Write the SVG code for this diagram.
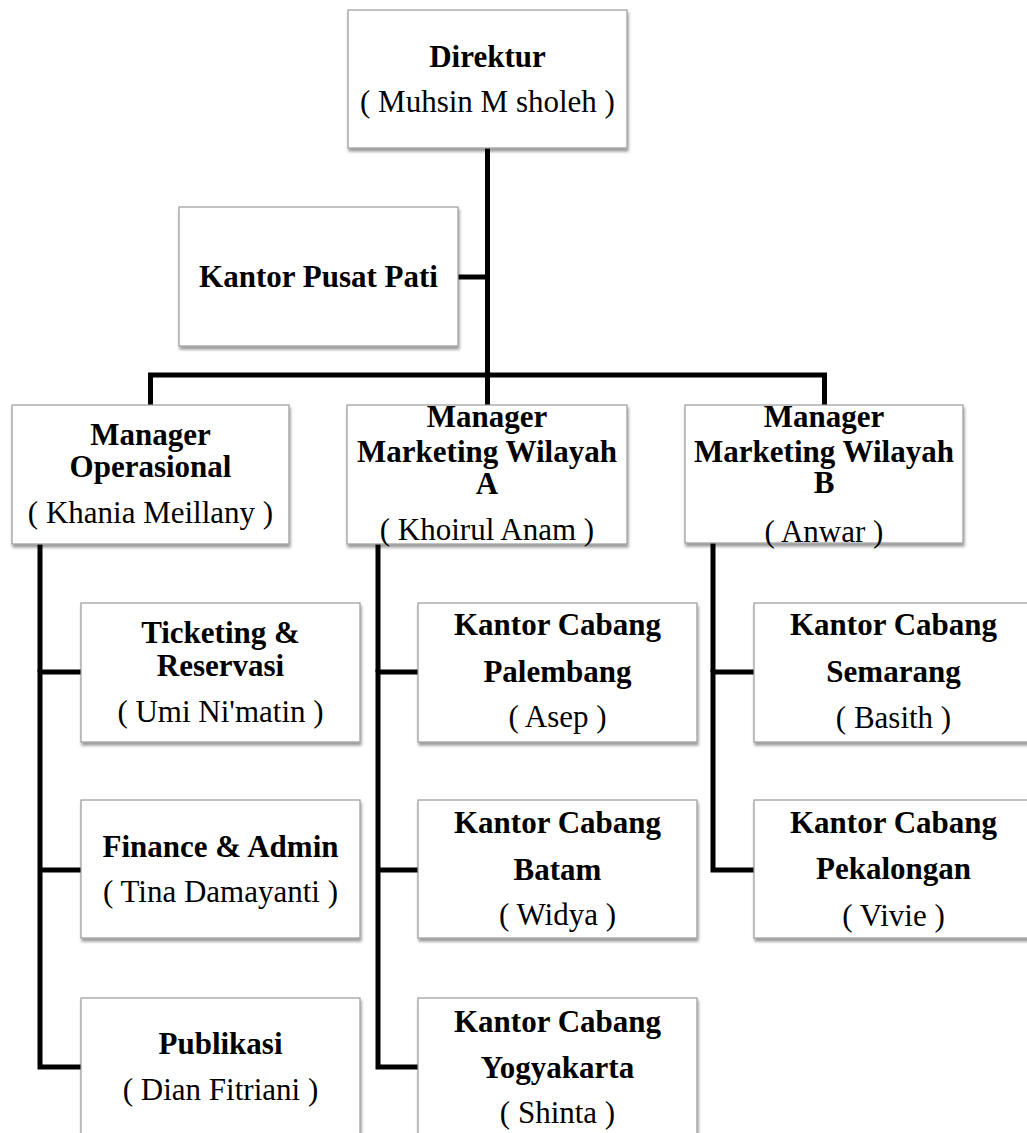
<svg xmlns="http://www.w3.org/2000/svg" width="1027" height="1133" viewBox="0 0 1027 1133">
<defs>
<filter id="sh" x="-5%" y="-5%" width="115%" height="120%">
<feDropShadow dx="1" dy="3" stdDeviation="1.6" flood-color="#000" flood-opacity="0.4"/>
</filter>
<style>
.box{fill:#fff;stroke:#9a9a9a;stroke-width:1.2;filter:url(#sh)}
.b{font-family:"Liberation Serif","Times New Roman",serif;font-weight:bold;font-size:31px;fill:#000;text-anchor:middle}
.r{font-family:"Liberation Serif","Times New Roman",serif;font-size:31px;fill:#000;text-anchor:middle}
.ln{stroke:#000;stroke-width:5;fill:none;stroke-linecap:butt;stroke-linejoin:miter}
</style>
</defs>
<rect width="1027" height="1133" fill="#fff"/>
<g id="connectors">
<path class="ln" d="M487.5 148 V405"/>
<path class="ln" d="M458 277 H487.5"/>
<path class="ln" d="M150.5 405 V375 H824.5 V405"/>
<path class="ln" d="M81 672 H40 V1067 H81 M40 870 H81"/>
<path class="ln" d="M418 672 H378 V1067 H418 M378 870 H418"/>
<path class="ln" d="M754 672 H713 V870 H754"/>
<path class="ln" d="M40 544 V672 M378 544 V672 M713 543 V672"/>
</g>
<g id="direktur">
<rect class="box" x="348" y="10" width="279" height="138"/>
<text class="b" x="487.5" y="67">Direktur</text>
<text class="r" x="487.5" y="112">( Muhsin M sholeh )</text>
</g>
<g id="kantor-pusat">
<rect class="box" x="179" y="207" width="279" height="139"/>
<text class="b" x="318.5" y="287">Kantor Pusat Pati</text>
</g>
<g id="manager-operasional">
<rect class="box" x="12" y="405" width="277" height="139"/>
<text class="b" x="150.5" y="445">Manager</text>
<text class="b" x="150.5" y="477">Operasional</text>
<text class="r" x="150.5" y="523">( Khania Meillany )</text>
</g>
<g id="manager-marketing-a">
<rect class="box" x="347" y="405" width="280" height="139"/>
<text class="b" x="487" y="427">Manager</text>
<text class="b" x="487" y="462">Marketing Wilayah</text>
<text class="b" x="487" y="494">A</text>
<text class="r" x="487" y="540">( Khoirul Anam )</text>
</g>
<g id="manager-marketing-b">
<rect class="box" x="685" y="405" width="278" height="138"/>
<text class="b" x="824" y="427">Manager</text>
<text class="b" x="824" y="462">Marketing Wilayah</text>
<text class="b" x="824" y="493">B</text>
<text class="r" x="824" y="542">( Anwar )</text>
</g>
<g id="ticketing">
<rect class="box" x="81" y="603" width="279" height="139"/>
<text class="b" x="220.5" y="643">Ticketing &amp;</text>
<text class="b" x="220.5" y="676">Reservasi</text>
<text class="r" x="220.5" y="722">( Umi Ni'matin )</text>
</g>
<g id="finance">
<rect class="box" x="81" y="800" width="279" height="138"/>
<text class="b" x="220.5" y="857">Finance &amp; Admin</text>
<text class="r" x="220.5" y="902">( Tina Damayanti )</text>
</g>
<g id="publikasi">
<rect class="box" x="81" y="998" width="279" height="150"/>
<text class="b" x="220.5" y="1054">Publikasi</text>
<text class="r" x="220.5" y="1100">( Dian Fitriani )</text>
</g>
<g id="palembang">
<rect class="box" x="418" y="603" width="279" height="139"/>
<text class="b" x="557.5" y="635">Kantor Cabang</text>
<text class="b" x="557.5" y="682">Palembang</text>
<text class="r" x="557.5" y="727">( Asep )</text>
</g>
<g id="batam">
<rect class="box" x="418" y="800" width="279" height="138"/>
<text class="b" x="557.5" y="833">Kantor Cabang</text>
<text class="b" x="557.5" y="880">Batam</text>
<text class="r" x="557.5" y="925">( Widya )</text>
</g>
<g id="yogyakarta">
<rect class="box" x="418" y="998" width="279" height="150"/>
<text class="b" x="557.5" y="1032">Kantor Cabang</text>
<text class="b" x="557.5" y="1078">Yogyakarta</text>
<text class="r" x="557.5" y="1123">( Shinta )</text>
</g>
<g id="semarang">
<rect class="box" x="754" y="603" width="280" height="139"/>
<text class="b" x="893.5" y="635">Kantor Cabang</text>
<text class="b" x="893.5" y="682">Semarang</text>
<text class="r" x="893.5" y="728">( Basith )</text>
</g>
<g id="pekalongan">
<rect class="box" x="754" y="800" width="280" height="138"/>
<text class="b" x="893.5" y="833">Kantor Cabang</text>
<text class="b" x="893.5" y="879">Pekalongan</text>
<text class="r" x="893.5" y="926">( Vivie )</text>
</g>
</svg>
